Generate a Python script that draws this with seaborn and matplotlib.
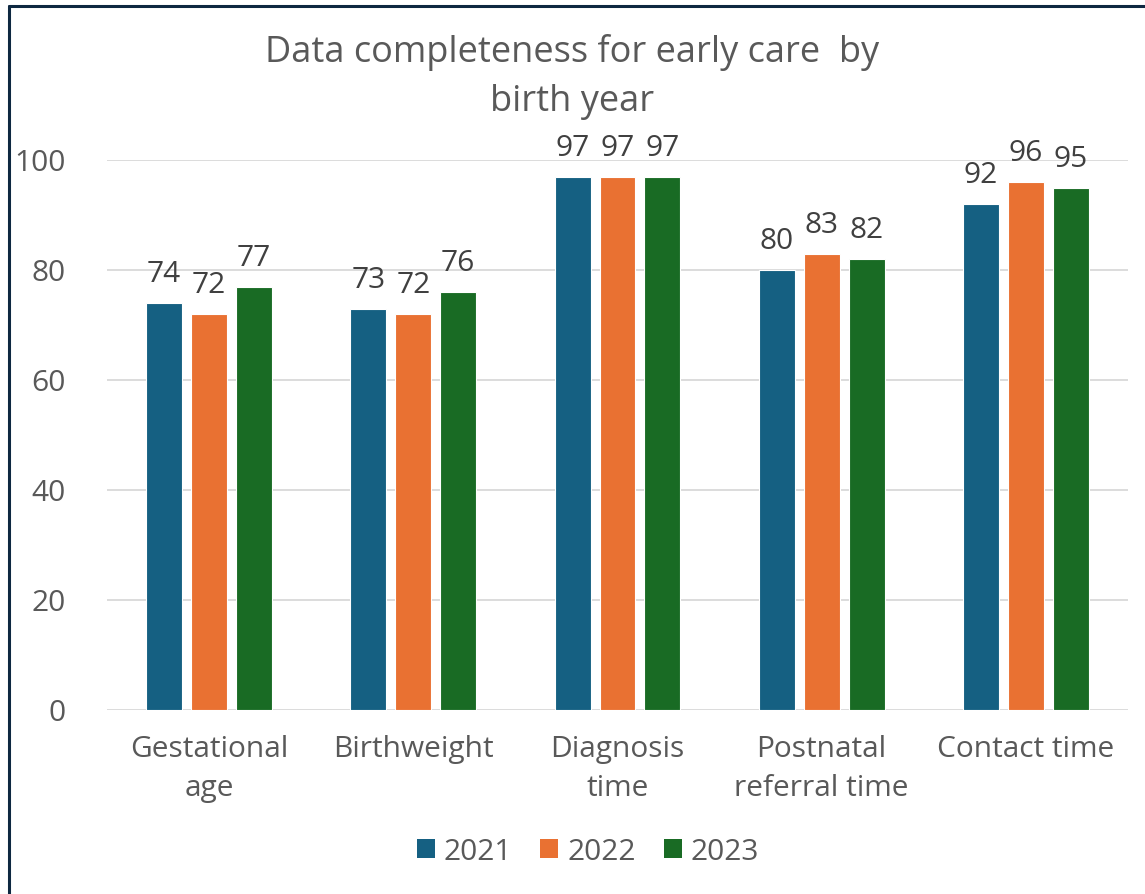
import matplotlib
matplotlib.use("Agg")
import matplotlib.pyplot as plt
import seaborn as sns
import pandas as pd
from matplotlib.lines import Line2D
from matplotlib.patches import Patch

categories = ["Gestational\nage", "Birthweight", "Diagnosis\ntime", "Postnatal\nreferral time", "Contact time"]
years = ["2021", "2022", "2023"]
values_2021 = [74, 73, 97, 80, 92]
values_2022 = [72, 72, 97, 83, 96]
values_2023 = [77, 76, 97, 82, 95]
colors = ["#156082", "#E97132", "#196B24"]
title = "Data completeness for early care  by\nbirth year"

df = pd.DataFrame({
    "category": categories * 3,
    "year": [years[0]] * 5 + [years[1]] * 5 + [years[2]] * 5,
    "value": values_2021 + values_2022 + values_2023,
})

sns.set_theme(style="white")
plt.rcParams["font.family"] = ["Open Sans", "DejaVu Sans"]
text_color = "#595959"

fig = plt.figure(figsize=(11.45, 8.94), dpi=100)
ax = fig.add_axes([107 / 1145, (894 - 710) / 894, (1128 - 107) / 1145, 550 / 894])

sns.barplot(data=df, x="category", y="value", hue="year", palette=colors,
            saturation=1, width=0.66, gap=0.2, ax=ax, edgecolor="white", linewidth=0.8,
            legend=False, zorder=3)

ax.set_ylim(0, 100)
ax.set_yticks(range(0, 101, 20))
ax.yaxis.grid(True, color="#D9D9D9", linewidth=1.3, zorder=0)
ax.set_axisbelow(True)
for s in ax.spines.values():
    s.set_visible(False)
ax.set_xlabel("")
ax.set_ylabel("")
ax.tick_params(axis="both", length=0, labelsize=21.5, labelcolor=text_color)
ax.tick_params(axis="y", pad=30)
ax.tick_params(axis="x", pad=18)
for lbl in ax.get_xticklabels():
    lbl.set_linespacing(1.45)

for cont in ax.containers:
    ax.bar_label(cont, fmt="%d", padding=10, fontsize=21.5, color="#404040", clip_on=False)

fig.text(0.5, 1 - 77 / 894, title, ha="center", va="center", fontsize=26,
         color=text_color, linespacing=1.45)

handles = [Patch(facecolor=c, edgecolor="none") for c in colors]
fig.legend(handles, years, loc="center", bbox_to_anchor=(588 / 1145, 1 - 852 / 894),
           ncol=3, frameon=False, fontsize=21.5, labelcolor=text_color,
           handlelength=0.6, handleheight=0.6, handletextpad=0.3, columnspacing=0.95)

# border (top and left visible)
fig.add_artist(Line2D([8.5 / 1145, 8.5 / 1145], [0, 1 - 5.5 / 894], transform=fig.transFigure,
                      color="#0E2841", linewidth=2.2))
fig.add_artist(Line2D([8.5 / 1145, 1], [1 - 5.5 / 894, 1 - 5.5 / 894], transform=fig.transFigure,
                      color="#0E2841", linewidth=2.2))

fig.savefig("out.png", dpi=100, facecolor="white")
